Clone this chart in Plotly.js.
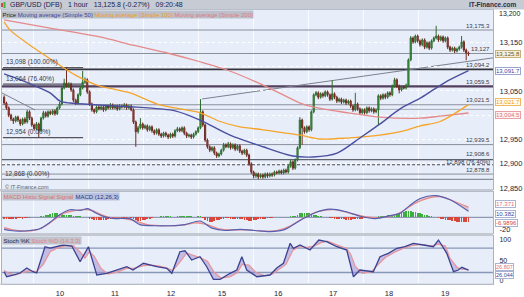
<!DOCTYPE html>
<html><head><meta charset="utf-8">
<script src="https://cdn.plot.ly/plotly-3.0.1.min.js"></script>
<style>html,body{margin:0;padding:0;background:#fff}#c{width:524px;height:297px}</style>
</head><body><div id="c"></div><script>
// ---------- DATA ----------
const O = [13037,13025,13015,13000,12992,12988,12996,12990,12982,12992,
12986,13007,12994,12980,12972,12982,12968,12994,13005,12998,
13007,13003,13009,13003,13015,13023,13056,13066,13060,13064,
13052,13031,13025,13042,13056,13068,13073,13048,13023,13011,
13007,13017,13013,13017,13011,13019,13015,13021,13015,13019,
13013,13019,13017,13021,13015,13019,13011,12986,12966,12974,
12982,12974,12978,12970,12976,12968,12963,12970,12961,12957,
12963,12959,12955,12961,12957,12968,12972,12968,12974,12963,
12957,12959,12955,12961,12966,12974,13007,12980,12949,12935,
12928,12933,12922,12916,12920,12928,12939,12935,12941,12933,
12939,12930,12937,12926,12922,12928,12918,12900,12883,12875,
12879,12873,12877,12873,12879,12875,12879,12877,12883,12881,
12885,12881,12887,12883,12895,12904,12891,12908,12933,12990,
12974,12966,12976,12970,13007,13042,13046,13037,13044,13040,
13048,13042,13033,13044,13037,13029,13033,13027,13031,13025,
13029,13019,13011,13023,13013,13005,13011,13005,13015,13009,
13013,13007,13011,13040,13035,13042,13037,13046,13042,13060,
13073,13060,13052,13058,13056,13062,13114,13159,13151,13163,
13153,13145,13155,13140,13149,13138,13153,13159,13163,13155,
13161,13153,13159,13140,13134,13138,13132,13136,13140,13151,
13134,13128];
const Hi = [13041,13028,13018,13003,12995,12999,12999,12993,12995,12996,
13011,13010,12997,12983,12986,12985,12997,13009,13008,13010,
13010,13012,13012,13018,13027,13060,13075,13098,13068,13067,
13055,13034,13045,13060,13091,13078,13076,13051,13026,13014,
13020,13020,13021,13020,13022,13022,13025,13024,13022,13022,
13023,13022,13025,13024,13022,13022,13014,12989,12978,12994,
12985,12981,12981,12979,12979,12971,12973,12973,12964,12966,
12966,12962,12964,12964,12971,12976,12975,12977,12977,12966,
12962,12962,12964,12969,12977,13033,13010,12983,12952,12938,
12936,12936,12925,12923,12931,12943,12942,12945,12944,12942,
12942,12940,12940,12929,12931,12931,12921,12903,12886,12882,
12882,12880,12880,12882,12882,12882,12882,12886,12886,12888,
12888,12890,12890,12898,12908,12907,12911,12936,12996,12993,
12977,12979,12979,13010,13045,13050,13049,13047,13047,13051,
13051,13045,13072,13047,13040,13036,13036,13034,13034,13032,
13032,13022,13046,13026,13016,13014,13014,13018,13018,13016,
13016,13014,13043,13043,13045,13045,13049,13049,13063,13077,
13076,13063,13061,13061,13065,13117,13163,13162,13166,13166,
13156,13158,13158,13152,13152,13156,13162,13184,13166,13164,
13164,13162,13162,13143,13141,13141,13139,13143,13163,13154,
13137,13131];
const Lo = [13021,13011,12996,12988,12982,12985,12986,12978,12979,12982,
12983,12990,12976,12968,12969,12954,12965,12991,12995,12995,
13000,13000,12999,13000,13012,13020,13053,13057,13056,13048,
13027,13021,13022,13039,13053,13064,13044,13019,13007,13003,
13004,13010,13010,13007,13008,13012,13012,13012,13012,13009,
13010,13014,13014,13011,13012,13008,12982,12935,12962,12971,
12970,12971,12966,12967,12964,12959,12960,12957,12953,12954,
12955,12951,12952,12953,12954,12965,12965,12965,12959,12953,
12954,12951,12952,12958,12963,12971,12976,12945,12931,12924,
12925,12918,12912,12913,12917,12925,12932,12932,12929,12930,
12926,12927,12922,12918,12919,12914,12896,12879,12870,12871,
12868,12870,12869,12870,12871,12872,12873,12874,12878,12878,
12878,12878,12880,12880,12892,12887,12888,12905,12930,12939,
12962,12963,12966,12967,13004,13039,13033,13034,13036,13037,
13038,13029,13030,13033,13025,13026,13023,13024,13021,13022,
13015,13007,13008,13009,13001,13002,13001,13002,13005,13006,
13003,13004,12980,13031,13032,13033,13034,13038,13039,13057,
13056,13045,13049,13053,13053,13059,13111,13147,13148,13149,
13141,13142,13136,13137,13134,13135,13150,13156,13151,13152,
13149,13150,13136,13130,13131,13128,13129,13133,13137,13130,
13113,13122];
const C = [13025,13015,13000,12992,12988,12996,12990,12982,12992,12986,
13007,12994,12980,12972,12982,12968,12994,13005,12998,13007,
13003,13009,13003,13015,13023,13056,13066,13060,13064,13052,
13031,13025,13042,13056,13068,13073,13048,13023,13011,13007,
13017,13013,13017,13011,13019,13015,13021,13015,13019,13013,
13019,13017,13021,13015,13019,13011,12986,12966,12974,12982,
12974,12978,12970,12976,12968,12963,12970,12961,12957,12963,
12959,12955,12961,12957,12968,12972,12968,12974,12963,12957,
12959,12955,12961,12966,12974,13007,12980,12949,12935,12928,
12933,12922,12916,12920,12928,12939,12935,12941,12933,12939,
12930,12937,12926,12922,12928,12918,12900,12883,12875,12879,
12873,12877,12873,12879,12875,12879,12877,12883,12881,12885,
12881,12887,12883,12895,12904,12891,12908,12933,12990,12974,
12966,12976,12970,13007,13042,13046,13037,13044,13040,13048,
13042,13033,13044,13037,13029,13033,13027,13031,13025,13029,
13019,13011,13023,13013,13005,13011,13005,13015,13009,13013,
13007,13011,13040,13035,13042,13037,13046,13042,13060,13073,
13060,13052,13058,13056,13062,13114,13159,13151,13163,13153,
13145,13155,13140,13149,13138,13153,13159,13163,13155,13161,
13153,13159,13140,13134,13138,13132,13136,13140,13151,13134,
13128,13125.8];

const ma50X = [0,6.9,12.5,19.9,24.2,28.5,41.5,55.8,67.5,74,84.8,97.8,112.1,125,133.7,144.1,154,162.7,171.4,180.1,185.7,193,201];
const ma50Y = [13085,13073,13062,13046,13029,13025,13021,13017,13013,13009,12990,12959,12935,12916,12914,12922,12953,12982,13013,13035,13052,13073,13091.7];
const ma100X = [0,2.6,11.2,20.6,30.7,40.1,54.5,67.5,84.8,93.5,102.1,112.1,128.1,136.8,148.4,162.7,171.4,180.1,188.7,201];
const ma100Y = [13192,13175,13144,13114,13083,13062,13046,13021,13005,12987,12976,12970,12959,12951,12953,12959,12966,12978,12987,13021.7];
const ma200X = [0,19.9,41.5,55.8,70.6,84.8,96.5,113,128.1,133.7,148.4,162.7,180.1,188.7,201];
const ma200Y = [13196,13179,13161,13144,13128,13110,13093,13060,13025,13017,13005,12996,12994,12998,13004.5];

const macdX = [0,2.6,6.9,11.2,15.5,19.9,24.2,28.5,32.9,36.3,39.4,43.7,48,54.5,58.8,65.3,71.8,78.3,84.8,90,95.6,102.1,108.6,115.1,121.6,128.1,134.6,141.1,147.6,154.1,160.6,167.1,171.4,175.5,180.1,186.5,193,201];
const macdY = [-20,-22,-23,-22,-19,-8,5,13,12,15,8,1,-2,-2,-12,-14,-14,-12,-6,-18,-22,-20,-22,-24,-20,-5,8,14,10,2,-2,3,7,20,32,37,30,10.382];
const signalX = [0,4,9,14,18,22,26,30,34,38,42,46,52,57,62,70,77,83,88,93,99,105,112,118,124,130,136,143,150,157,163,169,173,178,184,189,195,201];
const signalY = [-17,-21,-23,-21,-14,-3,7,11,13,12,5,0,-2,-6,-12,-14,-13,-9,-12,-19,-21,-21,-23,-22,-14,0,10,13,7,1,0,4,12,24,33,35,27,17.371];
const histo = [-2,-2,-2,-3,-2,-2,-1,-1,-2,-1,-1,-1,0,0,1,
1,2,3,4,5,6,7,7,7,6,6,5,5,4,4,3,3,2,2,1,1,0,
-2,-3,-4,-5,-5,-5,-4,-4,-3,-3,-2,-2,-2,-1,-1,-1,-1,0,-1,
-3,-5,-6,-6,-5,-4,-3,
-2,-1,0,1,1,2,2,2,2,2,1,1,2,2,3,3,3,2,2,1,1,2,
3,-1,-4,-6,-7,-7,-6,-5,-4,-3,-2,-1,-1,-2,-2,-2,-3,-3,-3,-4,-5,-6,-6,-5,
-4,-3,-3,-2,-2,-1,-1,-1,0,0,0,1,1,1,1,2,2,
3,5,7,8,8,7,7,6,5,4,3,2,1,1,0,
-1,-1,-2,-2,-3,-3,-3,-4,-4,-4,-3,-3,-2,-2,-2,-1,-1,-1,0,0,
1,2,3,3,3,4,4,5,5,6,7,9,10,11,11,11,10,9,8,7,6,5,4,3,2,1,0,
-1,-2,-3,-4,-5,-5,-6,-6,-7,-7,-7,-7,-7,-6.9896];

const kX = [0,1.1,3.9,6.9,9.8,12.5,14.1,17.7,19.9,22.8,25.6,29.3,32.9,36.5,40.1,44.4,48,53.1,55.8,60.3,66.1,70.4,72.6,76.1,78.3,81.2,84.8,87.7,90.6,93.5,97.8,100.7,102.9,105,109.4,115.1,118,120.9,123.8,125.2,128.1,132.4,136.2,139.6,144,148.3,151.2,154,159.8,162.7,166.3,170,173.5,177.1,181.5,185.8,188,191.6,194.5,196.6,198.1,201];
const kY = [21.9,9.6,13.8,18.7,31,21.9,18.7,83.5,80.3,83.5,87.7,85.2,46.6,83.5,13.8,18,24.4,34.2,26.1,42.6,34.2,30.3,18,71.2,73.6,50.7,58.9,34.2,3.2,3.2,18,26.1,58.9,26.1,9.6,13.8,31,42.6,91.9,79.6,87.7,75.4,100,95.8,83.5,75.4,9.6,26.1,21.9,58.9,67.2,79.6,83.5,91.9,87.7,83.5,100,67.2,21.9,26.1,32.8,26.044];
const dX = [0,2,5,8,11,14,17,20,23,26,30,33,35,37,39,42,45,49,53,56,59,62,66,70,73,76,79,82,85,88,91,94,98,101,103,106,109,113,116,119,122,125,128,131,134,137,140,144,148,150,152,155,159,162,165,169,173,177,181,185,188,191,193,196,198,201];
const dY = [25,18,14,20,24,22,40,72,80,85,86,70,55,72,60,30,16,21,30,30,35,38,37,32,25,45,68,62,56,48,20,6,10,20,40,38,20,12,16,28,40,75,84,82,85,93,97,88,80,65,35,18,22,40,57,70,80,87,89,85,90,85,55,33,28,26.807];

const dayLabels = ['10','11','12','15','16','17','18','19'];
const dayLabelPos = [24.2,48.0,72.2,94.3,118.6,142.4,166.6,190.9];
const dayBounds = [12.7,36.5,60.3,84.1,107.9,131.7,155.5,179.3];

const priceTicks = [12850,12900,12950,13000,13050,13100,13150];
const priceTickText = ['12,850','12,900','12,950','','13,050','','13,150'];

const levels = [13175.3,13127,13094.2,13059.5,13021.5,13012,12939.5,12908.6,12898,12878.8,12868];
const levelText = ['13,175.3','13,127','13,094.2','13,059.5','13,021.5','','12,939.5','12,908.6','12,898 (76.40%)','12,878.8',''];
const fibLevels = [13098,13064,12954];
const fibText = ['13,098 (100.00%)','13,064 (76.40%)','12,954 (0.00%)'];
const fib2Text = '12,868 (0.00%)';
const trend1 = [[-0.9,13045.7],[13.4,13010.7]];
const trend2 = [[85.7,13033.4],[211.6,13118]];

// ---------- STYLE / LAYOUT ----------
const W = 524, Hh = 297;
const px = v => v / W, py = v => 1 - v / Hh;
const xIdx = C.map((_, i) => i);
const xr = [-0.91, 211.6];
const FONT = 'Liberation Sans, Arial, sans-serif';

const traces = [
  {type:'candlestick', x:xIdx, open:O, high:Hi, low:Lo, close:C, xaxis:'x', yaxis:'y',
   increasing:{line:{color:'#2d6a2d',width:1}, fillcolor:'#3fb548'},
   decreasing:{line:{color:'#6e2a22',width:1}, fillcolor:'#d8453a'},
   whiskerwidth:0, hoverinfo:'skip'},
  {type:'scatter', mode:'lines', x:ma200X, y:ma200Y, line:{color:'#e58a8a',width:1.3,shape:'spline',smoothing:0.8}, yaxis:'y', hoverinfo:'skip'},
  {type:'scatter', mode:'lines', x:ma100X, y:ma100Y, line:{color:'#f5a52a',width:1.3,shape:'spline',smoothing:0.8}, yaxis:'y', hoverinfo:'skip'},
  {type:'scatter', mode:'lines', x:ma50X, y:ma50Y, line:{color:'#4a4f9f',width:1.4,shape:'spline',smoothing:0.8}, yaxis:'y', hoverinfo:'skip'},
  {type:'bar', x:xIdx, y:histo, yaxis:'y2', width:0.75,
   marker:{color:histo.map(v => v >= 0 ? '#3cae3c' : '#d8463c'), line:{width:0}}, hoverinfo:'skip'},
  {type:'scatter', mode:'lines', x:signalX, y:signalY, yaxis:'y2', line:{color:'#e58a8a',width:1.2,shape:'spline',smoothing:0.8}, hoverinfo:'skip'},
  {type:'scatter', mode:'lines', x:macdX, y:macdY, yaxis:'y2', fill:'tonexty', fillcolor:'rgba(215,140,150,0.45)', line:{color:'#5560b0',width:1.2,shape:'spline',smoothing:0.8}, hoverinfo:'skip'},
  {type:'scatter', mode:'lines', x:dX, y:dY, yaxis:'y3', line:{color:'#e8959a',width:1.2}, hoverinfo:'skip'},
  {type:'scatter', mode:'lines', x:kX, y:kY, yaxis:'y3', fill:'tonexty', fillcolor:'rgba(160,140,205,0.5)', line:{color:'#3b4290',width:1.3}, hoverinfo:'skip'}
];

const shapes = [];
['y','y2','y3'].forEach(ya => dayBounds.forEach(b => shapes.push({type:'line', xref:'x', yref:ya+' domain', x0:b, x1:b, y0:0, y1:1, line:{color:'#fbfcff',width:1}, layer:'below'})));
const levelStyle = [
  {c:'#8a8f9c',w:1},{c:'#8a8f9c',w:1},{c:'#34343f',w:1.6},{c:'#523f5e',w:2.2},{c:'#8a8f9c',w:1},{c:'#a4a9b5',w:1},
  {c:'#8a8f9c',w:1},{c:'#5f6370',w:1.2},{c:'#4a4a58',w:1,d:'3px,2px'},{c:'#8a8f9c',w:1},{c:'#8a8f9c',w:1.2}];
levels.forEach((v,i) => shapes.push({type:'line', xref:'x', yref:'y', x0:xr[0], x1:xr[1], y0:v, y1:v,
  line:{color:levelStyle[i].c, width:levelStyle[i].w, dash:levelStyle[i].d||'solid'}, layer:'below'}));
fibLevels.forEach(v => shapes.push({type:'line', xref:'x', yref:'y', x0:-0.5, x1:34.2, y0:v, y1:v, line:{color:'#55555f',width:1.2}, layer:'below'}));
[trend1, trend2].forEach(t => shapes.push({type:'line', xref:'x', yref:'y', x0:t[0][0], y0:t[0][1], x1:t[1][0], y1:t[1][1], line:{color:'#7c8090',width:1}, layer:'below'}));
shapes.push({type:'line', xref:'x domain', yref:'y2', x0:0, x1:1, y0:0, y1:0, line:{color:'#8f9ab2',width:1.2}, layer:'below'});
[20,80].forEach(v => shapes.push({type:'line', xref:'x domain', yref:'y3', x0:0, x1:1, y0:v, y1:v, line:{color:'#8797b8',width:1.4}, layer:'below'}));
shapes.push({type:'rect', xref:'paper', yref:'paper', x0:0, x1:1, y0:py(9.5), y1:1, fillcolor:'#c7cbd3', line:{width:0}, layer:'above'});
[[189,191.5],[233,236],[283.5,284.5]].forEach(s => shapes.push({type:'rect', xref:'paper', yref:'paper', x0:0, x1:px(493), y0:py(s[1]), y1:py(s[0]), fillcolor:'#c4c8d0', line:{width:0}, layer:'above'}));
shapes.push({type:'rect', xref:'paper', yref:'paper', x0:px(1), x1:px(3), y0:py(7), y1:py(3), fillcolor:'#d8453a', line:{width:0}, layer:'above'});
shapes.push({type:'rect', xref:'paper', yref:'paper', x0:px(3.5), x1:px(5.5), y0:py(8), y1:py(2), fillcolor:'#3fb548', line:{width:0}, layer:'above'});

const ann = [];
const A = (o) => ann.push(Object.assign({showarrow:false, font:{family:FONT,size:6.5,color:'#3a3a48'}}, o));
A({xref:'paper', yref:'paper', x:px(8), y:py(4.8), xanchor:'left', yanchor:'middle',
   text:'GBP/USD (DFB)   1 hour   13,125.8 (-0.27%)   09:20:48', font:{family:FONT,size:7,color:'#1c2250'}});
A({xref:'paper', yref:'paper', x:px(519), y:py(4), xanchor:'right', yanchor:'middle',
   text:'<b>IT-Finance.com</b>', font:{family:FONT,size:6.5,color:'#2a2f48'}});
A({xref:'paper', yref:'paper', x:px(1), y:py(14.5), xanchor:'left', yanchor:'middle', bgcolor:'#bcc0ca', borderpad:0.5,
   text:'<span style="color:#222">Price</span> <span style="color:#3d44a0">Moving average (Simple 50)</span> <span style="color:#f39a1a">Moving average (Simple 100)</span> <span style="color:#e07a80">Moving average (Simple 200)</span>',
   font:{family:FONT,size:6,color:'#222'}});
A({xref:'paper', yref:'paper', x:px(497), y:py(13), xanchor:'left', yanchor:'middle', text:'13,200', font:{family:FONT,size:7,color:'#222'}});
const levelShift = [0,0,0,0,0,0,0,1.5,-1.5,0,0];
levels.forEach((v,i) => { if (levelText[i]) A({xref:'paper', yref:'y', x:px(492), y:v, xanchor:'right', yanchor:'bottom', yshift:-0.5+levelShift[i], text:levelText[i], font:{family:FONT,size:6,color:'#3a3a48'}}); });
fibLevels.forEach((v,i) => A({xref:'paper', yref:'y', x:px(4), y:v, xanchor:'left', yanchor:'bottom', yshift:-0.5, text:fibText[i], font:{family:FONT,size:6.5,color:'#3a3a48'}}));
A({xref:'paper', yref:'y', x:px(3), y:12868, xanchor:'left', yanchor:'bottom', yshift:-0.5, text:fib2Text, font:{family:FONT,size:6.5,color:'#3a3a48'}});
A({xref:'paper', yref:'paper', x:px(3), y:py(186.5), xanchor:'left', yanchor:'middle', text:'© IT-Finance.com', font:{family:FONT,size:5.5,color:'#555a66'}});
const box = (yref, y, text, col, bg, bc, ys, fs) => A({xref:'paper', yref:yref, x:px(495), y:y, xanchor:'left', yanchor:'middle', yshift:ys||0,
   text:text, bgcolor:bg, bordercolor:bc, borderwidth:1, borderpad:0, font:{family:FONT,size:fs||6,color:col}});
box('y', 13125.8, '13,125.8', '#6e5a2c', '#f7efd9', '#c9b27a');
box('y', 13091.7, '13,091.7', '#3d44a0', '#ffffff', '#9aa4cc');
box('y', 13021.7, '13,021.7', '#f39a1a', '#fffaf0', '#f0b860', 3);
box('y', 13004.5, '13,004.5', '#df6f75', '#fff2f2', '#e8a0a4', -2);
box('y2', 17.371, '17.371', '#df6f75', '#ffffff', '#aab4d0', 3);
box('y2', 10.382, '10.382', '#3d44a0', '#ffffff', '#aab4d0', -2.5);
box('y2', -6.9896, '-6.9896', '#d8463c', '#ffffff', '#aab4d0', -1.5);
box('y3', 26.807, '26.807', '#df6f75', '#ffffff', '#aab4d0', 3.2, 5.5);
box('y3', 26.044, '26.044', '#3b4290', '#ffffff', '#aab4d0', -4.5, 5.5);
A({xref:'paper', yref:'paper', x:px(2), y:py(196), xanchor:'left', yanchor:'middle', bgcolor:'#c0c4cc', borderpad:0.5,
   text:'MACD Histo Signal Signal', font:{family:FONT,size:6,color:'#e0706c'}});
A({xref:'paper', yref:'paper', x:px(74), y:py(196), xanchor:'left', yanchor:'middle', bgcolor:'#b8c2de', borderpad:0.5,
   text:'MACD (12,26,3)', font:{family:FONT,size:6,color:'#2d3480'}});
A({xref:'paper', yref:'paper', x:px(2), y:py(240), xanchor:'left', yanchor:'middle', bgcolor:'#c0c4cc', borderpad:0.5,
   text:'<span style="color:#1e2250">Stoch %K</span> <span style="color:#e0828a">Stoch %D (14,3,3)</span>', font:{family:FONT,size:6,color:'#222'}});

const tickFont = {family:FONT, size:7.5, color:'#22243a'};
const layout = {
  width:W, height:Hh, margin:{l:0,r:0,t:0,b:0}, paper_bgcolor:'#ffffff', plot_bgcolor:'#e7edf9',
  showlegend:false, hovermode:false, bargap:0, font:{family:FONT},
  xaxis:{domain:[px(2),px(493)], range:xr, anchor:'y3', tickvals:dayLabelPos, ticktext:dayLabels, ticks:'',
    showgrid:false, zeroline:false, tickfont:tickFont, ticklabelstandoff:2, showline:true, linecolor:'#a9b1c4', mirror:'all',
    rangeslider:{visible:false}, automargin:false},
  yaxis:{domain:[py(189),py(10)], range:[12848.1,13216.5], side:'right', anchor:'x', tickvals:priceTicks, ticktext:priceTickText,
    ticks:'', tickfont:tickFont, ticklabelstandoff:4, showgrid:true, gridcolor:'#ffffff', griddash:'dot', gridwidth:1,
    zeroline:false, showline:true, linecolor:'#a9b1c4', mirror:true, automargin:false},
  yaxis2:{domain:[py(233),py(191.5)], range:[-26.2,43.8], side:'right', anchor:'x', tickvals:[-20], ticktext:['-20'],
    ticks:'', tickfont:tickFont, ticklabelstandoff:4, showgrid:false, zeroline:false, showline:true, linecolor:'#a9b1c4', mirror:true, automargin:false},
  yaxis3:{domain:[py(283.5),py(236)], range:[-7.1,109.9], side:'right', anchor:'x', tickvals:[0,50,100], ticktext:['0','50','100'],
    ticks:'', tickfont:{family:FONT, size:7, color:'#22243a'}, ticklabelstandoff:4, showgrid:false, zeroline:false, showline:true, linecolor:'#a9b1c4', mirror:true, automargin:false},
  shapes:shapes, annotations:ann
};
Plotly.newPlot('c', traces, layout, {staticPlot:true, displayModeBar:false});
</script></body></html>
